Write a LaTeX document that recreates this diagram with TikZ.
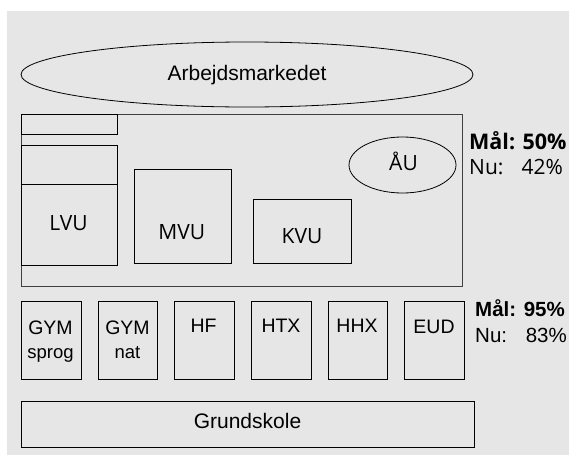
\documentclass[tikz,border=0pt]{standalone}
\usepackage{fontspec}
\setmainfont{Liberation Sans}
\newfontfamily\osans{Open Sans}
\usetikzlibrary{shapes.geometric}
\definecolor{bg}{HTML}{E6E6E6}
\begin{document}
\begin{tikzpicture}[x=1pt,y=-1pt,
  box/.style={draw=black,line width=0.8pt,rectangle,inner sep=0pt,outer sep=0pt},
  oval/.style={draw=black,line width=0.8pt,ellipse,inner sep=0pt,outer sep=0pt},
  upper/.style={font=\osans\fontsize{21}{24}\selectfont,inner sep=0pt,anchor=base},
  lower/.style={font=\fontsize{19.5}{22}\selectfont,inner sep=0pt,anchor=base},
  big/.style={font=\fontsize{21}{24}\selectfont,inner sep=0pt,anchor=base}]
\useasboundingbox (0,0) rectangle (569,455);
\fill[bg] (7,11) rectangle (569,455);
% top ellipse
\node[oval,minimum width=452pt,minimum height=65pt] (arb) at (247,74.5) {};
\node[big] (arbt) at (247,80) {Arbejdsmarkedet};
% big rectangle
\node[box,draw=black!75,minimum width=441pt,minimum height=172pt] (vu) at (241.5,200) {};
\node[box,minimum width=96pt,minimum height=20pt] (top) at (69,124) {};
\node[box,minimum width=96pt,minimum height=39pt] (above) at (69,164.5) {};
\node[box,minimum width=96pt,minimum height=81pt] (lvu) at (69,224.5) {};
\node[upper] (lvut) at (68.5,230) {LVU};
\node[box,minimum width=97pt,minimum height=94pt] (mvu) at (182.5,216) {};
\node[upper] (mvut) at (181.7,239.3) {MVU};
\node[box,minimum width=98pt,minimum height=64pt] (kvu) at (302,231) {};
\node[upper] (kvut) at (302,243) {KVU};
\node[oval,minimum width=107pt,minimum height=56pt] (au) at (402.5,165) {};
\node[upper] (aut) at (403.5,170.7) {ÅU};
\node[upper,anchor=base west,font=\osans\bfseries\fontsize{21.5}{24}\selectfont] (mal1) at (469,149) {Mål: 50\%};
\node[upper,anchor=base west] (nu1) at (469,174) {Nu:};
\node[upper,anchor=base east] (pct1) at (563,174) {42\%};
% bottom row
\node[box,minimum width=60pt,minimum height=78pt] (gs) at (51,340) {};
\node[lower] (gst) at (50.5,334.3) {GYM};
\node[lower,font=\fontsize{18.5}{21}\selectfont] (gss) at (50.5,358.3) {sprog};
\node[box,minimum width=59pt,minimum height=78pt] (gn) at (127.5,340) {};
\node[lower] (gnt) at (127.5,334.3) {GYM};
\node[lower,font=\fontsize{18.5}{21}\selectfont] (gnn) at (127.5,358.3) {nat};
\node[box,minimum width=60pt,minimum height=78pt] (hf) at (204,340) {};
\node[lower] (hft) at (203.5,332.3) {HF};
\node[box,minimum width=60pt,minimum height=78pt] (htx) at (281,340) {};
\node[lower] (htxt) at (281,332.3) {HTX};
\node[box,minimum width=59pt,minimum height=78pt] (hhx) at (357.5,340) {};
\node[lower] (hhxt) at (357,332.3) {HHX};
\node[box,minimum width=60pt,minimum height=78pt] (eud) at (434,340) {};
\node[lower] (eudt) at (434,333.3) {EUD};
\node[lower,anchor=base west,font=\bfseries\fontsize{20.5}{23}\selectfont] (mal2) at (475,316.5) {Mål: 95\%};
\node[lower,anchor=base west,font=\fontsize{20.5}{23}\selectfont] (nu2) at (475,342) {Nu:};
\node[lower,anchor=base east,font=\fontsize{20.5}{23}\selectfont] (pct2) at (567,342) {83\%};
% Grundskole
\node[box,minimum width=453pt,minimum height=46pt] (gr) at (247.5,424) {};
\node[big] (grt) at (247.5,428.3) {Grundskole};
\end{tikzpicture}
\end{document}
